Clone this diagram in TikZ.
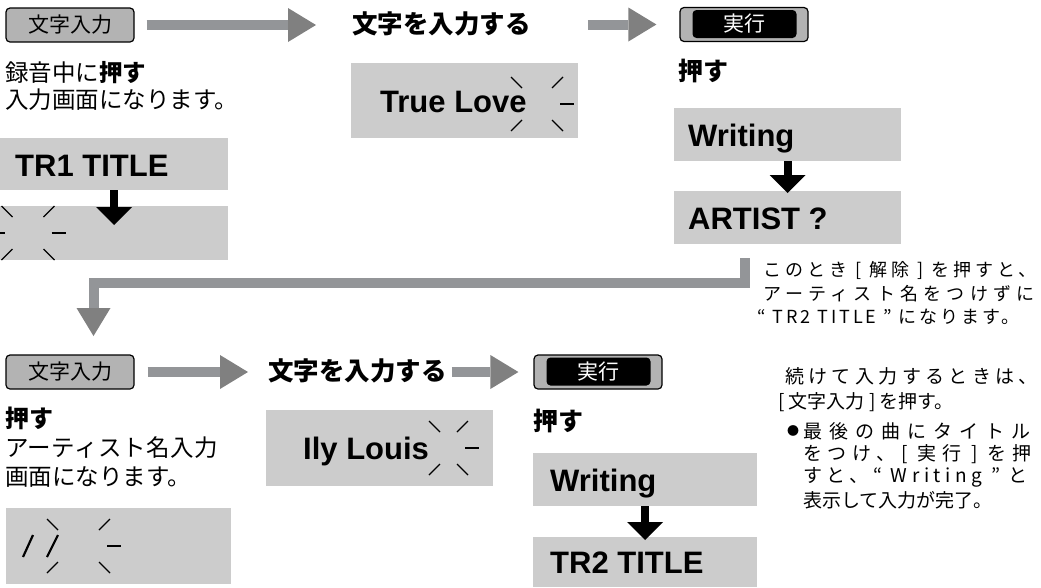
\documentclass[tikz,border=0pt]{standalone}
\usepackage{fontspec}
\setmainfont{Liberation Sans}
\newfontfamily\jp{Noto Sans CJK JP}
\usetikzlibrary{arrows.meta,positioning}
\definecolor{lcdgray}{HTML}{CCCCCC}
\definecolor{keygray}{HTML}{B3B3B3}
\definecolor{shaftgray}{HTML}{939598}
\definecolor{headgray}{HTML}{808080}
\tikzstyle{lcd} = [fill=lcdgray, inner sep=0pt, anchor=north west]
\tikzstyle{lcdtext} = [font=\bfseries\fontsize{31}{31}\selectfont, inner sep=0pt, anchor=base west]
\tikzstyle{keycap} = [draw=black, line width=1.2pt, fill=keygray, rounded corners=4pt, minimum width=128pt, minimum height=34pt, inner sep=0pt, font=\jp\fontsize{21}{21}\selectfont]
\tikzstyle{execface} = [fill=black, rounded corners=4pt, minimum width=104pt, minimum height=28pt, inner sep=0pt, text=white, font=\jp\fontsize{21}{21}\selectfont]
\tikzstyle{grayarrow} = [shaftgray, line width=10pt, -{Triangle[length=28pt,width=34pt,line width=0pt,color=headgray]}]
\tikzstyle{blackdrop} = [black, line width=8pt, -{Triangle[length=18pt,width=36pt,line width=0pt]}]
\tikzstyle{blinkline} = [black, line width=1.3pt]
\tikzstyle{bodytext} = [font=\jp\fontsize{23.5}{23.5}\selectfont, inner sep=0pt, anchor=west]
\tikzstyle{steptext} = [font=\jp\bfseries\fontsize{25.5}{25.5}\selectfont, inner sep=0pt, anchor=west]
\tikzstyle{pushtext} = [font=\jp\bfseries\fontsize{25}{25}\selectfont, inner sep=0pt, anchor=west]
\tikzstyle{notetext} = [font=\jp\fontsize{19}{19}\selectfont, inner sep=0pt, anchor=west]
\tikzstyle{smallnote} = [font=\jp\fontsize{18}{18}\selectfont, inner sep=0pt, anchor=west]

% blinking cursor: centre x, centre y, inner offset, left dash (0/1)
\newcommand{\blinkmarks}[4]{%
  \foreach \s in {-1,1} {
    \draw[blinkline] (#1+\s*#3,#2-16) -- (#1+\s*#3+\s*11,#2-27);
    \draw[blinkline] (#1+\s*#3,#2+16) -- (#1+\s*#3+\s*11,#2+27);
  }
  \draw[blinkline] (#1+#3+8,#2) -- (#1+#3+22,#2);
  \ifnum#4=1 \draw[blinkline] (#1-#3-8,#2) -- (#1-#3-22,#2);\fi
}

\begin{document}
\begin{tikzpicture}[x=1pt,y=-1pt]
\useasboundingbox (0,0) rectangle (1041,587);

% first track title
\node[keycap] (key1) at (70,25) {文字入力};
\node[steptext] (type1) at (352,24) {文字を入力する};
\node[keycap] (exec1) at (744,24.5) {};
\node[execface] (face1) at (744.5,24) {実行};
\draw[grayarrow, shorten <=12pt, shorten >=36pt] (key1.east) -- (key1.east -| type1.west);
\draw[grayarrow, shorten <=57pt, shorten >=23pt] (type1.east |- exec1.west) -- (exec1.west);

\node[bodytext] (rec1) at (5,73) {録音中に{\bfseries 押す}};
\node[bodytext] (rec2) at (5,100) {入力画面になります。};
\node[pushtext] (push1) at (678,71) {押す};

\node[lcd, minimum width=228pt, minimum height=52pt] (tr1) at (0,138) {};
\node[lcdtext] (tr1txt) at (15,176) {TR1 TITLE};
\node[lcd, minimum width=228pt, minimum height=54pt] (cur1) at (0,206) {};
\draw[blackdrop, shorten >=-19pt] (tr1.south) -- (cur1.north);
\blinkmarks{28}{233}{15.5}{1}

\node[lcd, minimum width=227pt, minimum height=75pt] (love) at (351,63) {};
\node[lcdtext] (lovetxt) at (380,112) {True Love};
\blinkmarks{537}{104}{15}{0}

\node[lcd, minimum width=227pt, minimum height=53pt] (write1) at (674,108) {};
\node[lcdtext] (write1txt) at (688,146) {Writing};
\node[lcd, minimum width=227pt, minimum height=53pt] (artist) at (674,191) {};
\node[lcdtext] (artisttxt) at (688,229) {ARTIST ?};
\draw[blackdrop, shorten >=-2pt] (write1.south) -- (artist.north);

% cancel note and way back
\node[smallnote] (cancel1) at (763,270) {\addfontfeature{LetterSpace=22}このとき [ 解除 ] を押すと、};
\node[smallnote] (cancel2) at (763,294) {\addfontfeature{LetterSpace=29}アーティスト名をつけずに};
\node[smallnote] (cancel3) at (757,317) {\addfontfeature{LetterSpace=16}“ TR2 TITLE ” になります。};
\coordinate (release) at (745,258);
\coordinate (bend) at (93.5,283);
\coordinate (drop) at (93.5,336);
\draw[grayarrow] (release) |- (bend) -- (drop);

% artist name
\node[keycap] (key2) at (70,372) {文字入力};
\node[steptext] (type2) at (268,371) {文字を入力する};
\node[keycap] (exec2) at (598,372) {};
\node[execface] (face2) at (598.5,371.5) {実行};
\draw[grayarrow, shorten <=13pt, shorten >=20pt] (key2.east) -- (key2.east -| type2.west);
\draw[grayarrow, shorten <=5pt, shorten >=15pt] (type2.east |- exec2.west) -- (exec2.west);

\node[bodytext, font=\jp\bfseries\fontsize{24}{24}\selectfont] (push2) at (5,418) {押す};
\node[bodytext] (art1) at (5,448) {\addfontfeature{LetterSpace=2}アーティスト名入力};
\node[bodytext] (art2) at (5,477) {画面になります。};

\node[lcd, minimum width=227pt, minimum height=76pt] (louis) at (266,410) {};
\node[lcdtext] (louistxt) at (303,459) {Ily Louis};
\blinkmarks{448.5}{448}{8.5}{0}

\node[lcd, minimum width=225pt, minimum height=76pt] (cur2) at (6,508) {};
\draw[blinkline, line width=2.2pt] (23,557) -- (33,535);
\draw[blinkline, line width=2.2pt] (47,557) -- (58,535);
\blinkmarks{78.5}{546}{20.5}{0}

\node[pushtext] (push3) at (533,421) {押す};
\node[lcd, minimum width=224pt, minimum height=53pt] (write2) at (533,453) {};
\node[lcdtext] (write2txt) at (550,491) {Writing};
\node[lcd, minimum width=224pt, minimum height=50pt] (tr2) at (533,537) {};
\node[lcdtext] (tr2txt) at (550,573) {TR2 TITLE};
\draw[blackdrop, shorten >=-3pt] (write2.south) -- (tr2.north);

% closing note
\node[notetext] (more1) at (785,376) {\addfontfeature{LetterSpace=23}続けて入力するときは、};
\node[notetext] (more2) at (778,402) {[ 文字入力 ] を押す。};
\node[notetext, font=\jp\fontsize{12}{12}\selectfont] (dot) at (787,431) {●};
\node[notetext] (last1) at (803,431) {\addfontfeature{LetterSpace=37}最後の曲にタイトル};
\node[notetext] (last2) at (803,454) {\addfontfeature{LetterSpace=30}をつけ、[ 実行 ] を押};
\node[notetext] (last3) at (803,477) {\addfontfeature{LetterSpace=24}すと、“ Writing ” と};
\node[notetext] (last4) at (803,500) {表示して入力が完了。};
\end{tikzpicture}
\end{document}
